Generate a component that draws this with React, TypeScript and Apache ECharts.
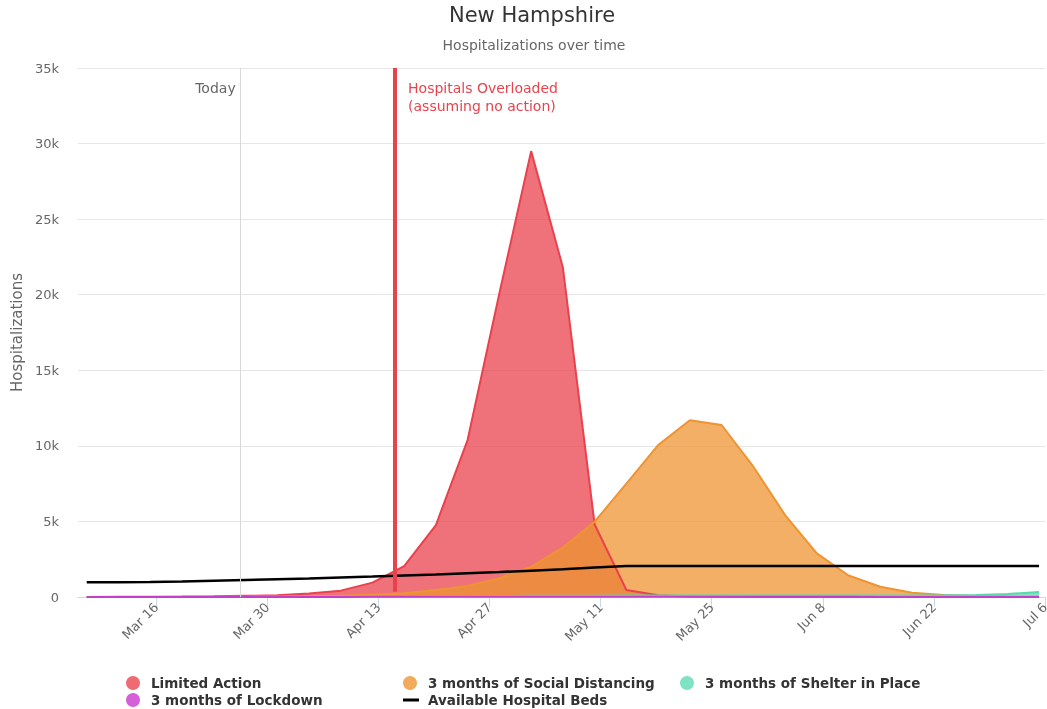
import React, { useEffect, useRef } from "react";
import * as echarts from "echarts";

const FONT = '"DejaVu Sans", sans-serif';

// x positions are days relative to Mar 16
const tickDays = [0, 14, 28, 42, 56, 70, 84, 98, 112];
const tickLabels = ["Mar 16", "Mar 30", "Apr 13", "Apr 27", "May 11", "May 25", "Jun 8", "Jun 22", "Jul 6"];
const firstPointDay = -8.75;
const stepDays = 4;
const TODAY_DAY = 10.65;
const OVERLOAD_DAY = 30.1;
const X_MIN = -9.85;
const X_MAX = 112;
const Y_MAX = 35000;

const limitedAction = [5, 10, 18, 30, 50, 80, 110, 230, 420, 950, 2050, 4760, 10400, 20100, 29500, 21800, 4800, 460, 120, 40, 15, 8, 5, 3, 2, 1, 1, 1, 0, 0, 0];
const socialDistancing = [2, 4, 6, 10, 15, 22, 35, 55, 85, 150, 245, 460, 730, 1240, 2000, 3280, 4980, 7500, 10050, 11700, 11380, 8620, 5420, 2890, 1420, 680, 285, 130, 60, 25, 10];
const shelterInPlace = [0, 0, 1, 2, 3, 5, 8, 12, 18, 25, 35, 45, 55, 65, 75, 85, 90, 95, 100, 100, 100, 100, 100, 100, 95, 95, 100, 110, 140, 200, 330];
const lockdown = [0, 0, 1, 1, 2, 3, 4, 6, 8, 10, 12, 14, 16, 18, 20, 20, 20, 20, 20, 18, 16, 14, 12, 10, 9, 8, 7, 6, 5, 5, 5];
const hospitalBeds = [980, 980, 985, 1030, 1080, 1130, 1180, 1230, 1290, 1350, 1420, 1490, 1570, 1650, 1740, 1830, 1950, 2050, 2050, 2050, 2050, 2050, 2050, 2050, 2050, 2050, 2050, 2050, 2050, 2050, 2050];

const toPoints = (vals: number[]) => vals.map((v, i) => [firstPointDay + i * stepDays, v]);

const legendText = {
  color: "#333",
  fontSize: 13.5,
  fontWeight: "bold" as const,
  fontFamily: FONT,
  padding: [0, 0, 0, 6],
};

function mkLegend(name: string, color: string, left: number, top: number, line = false) {
  return {
    data: [{ name, itemStyle: { color } }],
    left,
    top,
    icon: line ? "rect" : "circle",
    itemWidth: line ? 16 : 14,
    itemHeight: line ? 3 : 14,
    textStyle: line ? { ...legendText, padding: [0, 0, 0, 4] } : legendText,
    inactiveColor: "#ccc",
  };
}

function areaSeries(name: string, color: string, vals: number[]) {
  return {
    name,
    type: "line",
    data: toPoints(vals),
    showSymbol: false,
    symbol: "circle",
    lineStyle: { color, width: 2 },
    itemStyle: { color },
    areaStyle: { color, opacity: 0.75 },
  };
}

export default function App() {
  const ref = useRef<HTMLDivElement>(null);
  useEffect(() => {
    if (!ref.current) return;
    const chart = echarts.init(ref.current, null, { renderer: "svg" });
    const option: any = {
      animation: false,
      title: [
        { text: "New Hampshire", left: 527, textAlign: "center", top: -1, textStyle: { fontFamily: FONT, fontSize: 21, fontWeight: "normal", color: "#333" } },
        { text: "Hospitalizations over time", left: 529, textAlign: "center", top: 33, textStyle: { fontFamily: FONT, fontSize: 14, fontWeight: "normal", color: "#666" } },
      ],
      grid: { left: 78, right: 2, top: 68, bottom: 112, containLabel: false, outerBoundsMode: "none" },
      legend: [
        mkLegend("Limited Action", "#ef6b73", 121, 671),
        mkLegend("3 months of Social Distancing", "#f2ab5d", 398, 671),
        mkLegend("3 months of Shelter in Place", "#7fe3c3", 675, 671),
        mkLegend("3 months of Lockdown", "#d55fd8", 121, 688),
        mkLegend("Available Hospital Beds", "#000", 398, 688, true),
      ],
      xAxis: {
        type: "value",
        min: X_MIN,
        max: X_MAX,
        splitLine: { show: false },
        axisLine: { lineStyle: { color: "#ccd6eb" } },
        axisTick: { show: true, length: 10, customValues: tickDays, lineStyle: { color: "#ccd6eb" } },
        axisLabel: {
          customValues: tickDays,
          rotate: 45,
          margin: 8,
          color: "#666",
          fontSize: 13,
          fontFamily: FONT,
          formatter: (v: number) => {
            const i = tickDays.indexOf(Math.round(v));
            return i >= 0 ? tickLabels[i] : "";
          },
        },
      },
      yAxis: {
        type: "value",
        min: 0,
        max: Y_MAX,
        interval: 5000,
        name: "Hospitalizations",
        nameLocation: "middle",
        nameGap: 54,
        nameRotate: 90,
        nameTextStyle: { color: "#666", fontSize: 15, fontFamily: FONT },
        axisLine: { show: false },
        axisTick: { show: false },
        splitLine: { lineStyle: { color: "#e6e6e6" } },
        axisLabel: {
          margin: 19,
          color: "#666",
          fontSize: 13,
          fontFamily: FONT,
          formatter: (v: number) => (v === 0 ? "0" : v / 1000 + "k"),
        },
      },
      series: [
        areaSeries("Limited Action", "#e9424d", limitedAction),
        areaSeries("3 months of Social Distancing", "#ee9432", socialDistancing),
        areaSeries("3 months of Shelter in Place", "#5bd8ad", shelterInPlace),
        areaSeries("3 months of Lockdown", "#c63fcb", lockdown),
        {
          name: "Available Hospital Beds",
          type: "line",
          data: toPoints(hospitalBeds),
          showSymbol: false,
          lineStyle: { color: "#000", width: 2.5 },
          itemStyle: { color: "#000" },
          z: 3,
          markLine: {
            silent: true,
            symbol: "none",
            label: { show: false },
            data: [
              [
                { coord: [TODAY_DAY, 0], lineStyle: { color: "#d8d8d8", width: 1, type: "solid" } },
                { coord: [TODAY_DAY, Y_MAX] },
              ],
              [
                { coord: [OVERLOAD_DAY, 350], lineStyle: { color: "#e8434d", width: 4, type: "solid" } },
                { coord: [OVERLOAD_DAY, Y_MAX] },
              ],
            ],
          },
        },
      ],
    };
    chart.setOption(option);
    const todayX = chart.convertToPixel({ xAxisIndex: 0 }, TODAY_DAY) as number;
    const overX = chart.convertToPixel({ xAxisIndex: 0 }, OVERLOAD_DAY) as number;
    const topY = chart.convertToPixel({ yAxisIndex: 0 }, Y_MAX) as number;
    chart.setOption({
      graphic: [
        {
          type: "text",
          x: todayX - 5,
          y: topY + 11,
          silent: true,
          style: { text: "Today", fill: "#666", fontSize: 14, fontFamily: FONT, align: "right", verticalAlign: "top", lineHeight: 18 },
        },
        {
          type: "text",
          x: overX + 13,
          y: topY + 11,
          silent: true,
          style: {
            text: "Hospitals Overloaded\n(assuming no action)",
            fill: "#e8434d",
            fontSize: 14,
            fontFamily: FONT,
            align: "left",
            verticalAlign: "top",
            lineHeight: 18,
          },
        },
      ],
    });
    return () => chart.dispose();
  }, []);
  return <div ref={ref} style={{ position: "fixed", left: 0, top: 0, width: 1047, height: 709 }} />;
}
